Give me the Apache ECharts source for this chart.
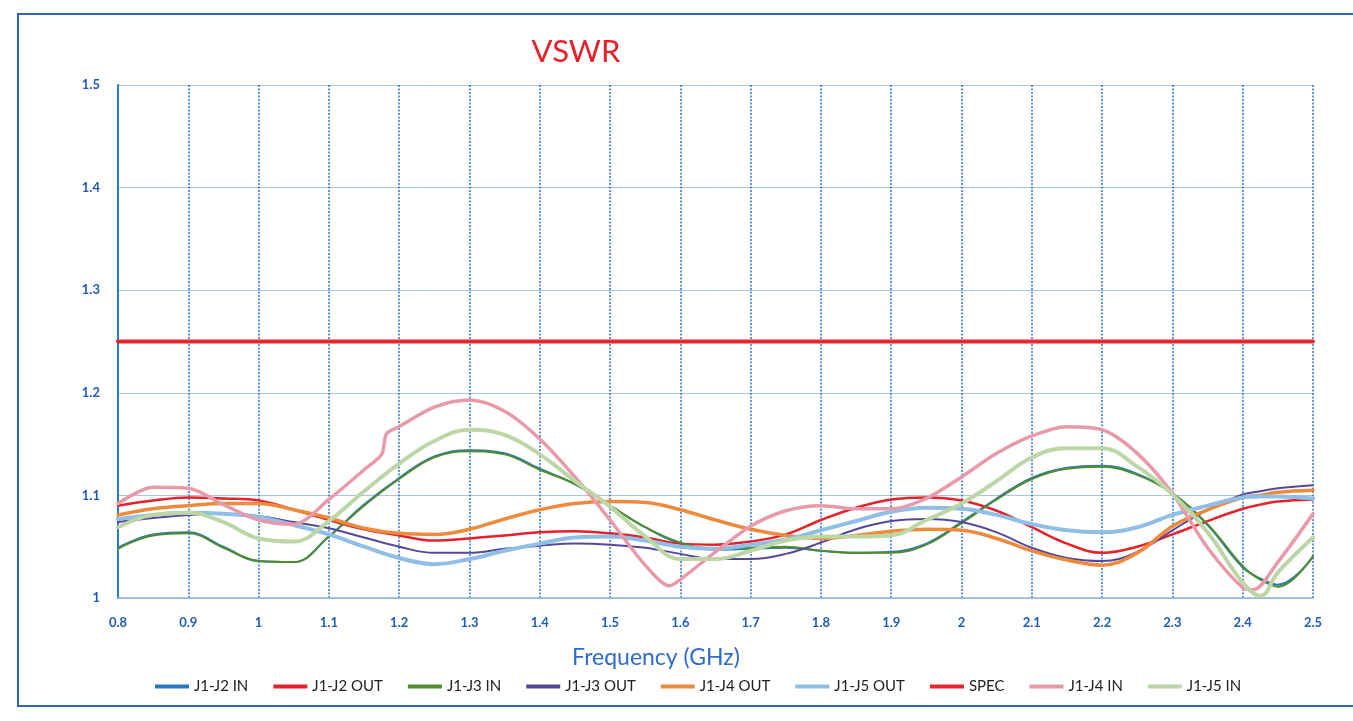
<!DOCTYPE html>
<html>
<head>
<meta charset="utf-8">
<script src="https://cdn.jsdelivr.net/npm/echarts@6/dist/echarts.min.js"></script>
<style>
html,body{margin:0;padding:0;background:#fff;}
#chart{width:1353px;height:721px;}
</style>
</head>
<body>
<div id="chart"></div>
<script>
// Frequency grid (GHz)
var freq = [0.8,0.85,0.9,0.95,1.0,1.05,1.1,1.15,1.2,1.25,1.3,1.35,1.4,1.45,1.5,1.55,1.6,1.65,1.7,1.75,1.8,1.85,1.9,1.95,2.0,2.05,2.1,2.15,2.2,2.25,2.3,2.35,2.4,2.425,2.45,2.5];
var freqPink = [0.8,0.85,0.9,0.95,1.0,1.05,1.1,1.15,1.175,1.182,1.2,1.25,1.3,1.35,1.4,1.45,1.5,1.55,1.585,1.6,1.65,1.7,1.75,1.8,1.85,1.9,1.95,2.0,2.05,2.1,2.15,2.2,2.25,2.3,2.35,2.4,2.415,2.45,2.5];
var freqSpec = [0.8, 2.5];

var j1j2In  = [1.049,1.062,1.064,1.050,1.036,1.035,1.060,1.091,1.117,1.138,1.144,1.141,1.126,1.111,1.090,1.069,1.053,1.047,1.048,1.049,1.046,1.044,1.045,1.053,1.074,1.097,1.117,1.127,1.129,1.121,1.102,1.071,1.030,1.019,1.013,1.040];
var j1j2Out = [1.090,1.095,1.098,1.097,1.095,1.086,1.076,1.067,1.061,1.056,1.058,1.061,1.064,1.065,1.063,1.059,1.053,1.052,1.055,1.062,1.076,1.088,1.096,1.098,1.095,1.085,1.069,1.053,1.044,1.050,1.062,1.075,1.087,1.091,1.094,1.096];
var j1j3In  = [1.048,1.061,1.063,1.049,1.036,1.035,1.060,1.090,1.116,1.137,1.143,1.140,1.125,1.111,1.090,1.069,1.054,1.048,1.049,1.050,1.046,1.044,1.044,1.052,1.073,1.096,1.116,1.126,1.128,1.120,1.102,1.072,1.031,1.018,1.011,1.041];
var j1j3Out = [1.074,1.078,1.081,1.082,1.080,1.074,1.068,1.059,1.050,1.044,1.044,1.048,1.051,1.053,1.052,1.049,1.043,1.038,1.038,1.043,1.054,1.067,1.075,1.077,1.074,1.064,1.049,1.039,1.036,1.045,1.066,1.086,1.101,1.104,1.107,1.110];
var j1j4Out = [1.081,1.087,1.090,1.092,1.092,1.086,1.078,1.068,1.063,1.062,1.067,1.077,1.086,1.092,1.094,1.093,1.086,1.076,1.067,1.061,1.058,1.061,1.065,1.067,1.066,1.058,1.046,1.037,1.032,1.044,1.070,1.086,1.098,1.100,1.103,1.105];
var j1j5Out = [1.077,1.081,1.083,1.082,1.079,1.071,1.062,1.050,1.039,1.033,1.038,1.046,1.053,1.059,1.060,1.056,1.050,1.048,1.052,1.057,1.066,1.075,1.084,1.088,1.087,1.081,1.072,1.066,1.064,1.069,1.081,1.090,1.098,1.099,1.099,1.097];
var spec    = [1.25, 1.25];
var j1j4In  = [1.092,1.108,1.107,1.091,1.076,1.072,1.096,1.125,1.140,1.160,1.167,1.186,1.193,1.182,1.155,1.118,1.076,1.032,1.012,1.018,1.045,1.070,1.085,1.090,1.087,1.087,1.097,1.118,1.141,1.158,1.167,1.164,1.141,1.102,1.049,1.010,1.008,1.035,1.082];
var j1j5In  = [1.069,1.081,1.083,1.074,1.058,1.055,1.075,1.104,1.131,1.153,1.164,1.159,1.140,1.114,1.089,1.060,1.038,1.038,1.046,1.056,1.060,1.060,1.061,1.076,1.092,1.114,1.137,1.146,1.146,1.128,1.101,1.064,1.015,1.002,1.025,1.059];

var xTicks = {min: 0.8, max: 2.5, interval: 0.1};
var yTicks = {min: 1.0, max: 1.5, interval: 0.1};

function pairs(xs, ys){ return xs.map(function(x,i){ return [x, ys[i]]; }); }

var seriesDefs = [
  {name:'J1-J2 IN',  x:freq,     y:j1j2In,  color:'#2a78c4', w:2},
  {name:'J1-J2 OUT', x:freq,     y:j1j2Out, color:'#e3222b', w:2.5},
  {name:'J1-J3 IN',  x:freq,     y:j1j3In,  color:'#4e8c2e', w:2},
  {name:'J1-J3 OUT', x:freq,     y:j1j3Out, color:'#55489a', w:2},
  {name:'J1-J4 OUT', x:freq,     y:j1j4Out, color:'#ee8a3c', w:3.5},
  {name:'J1-J5 OUT', x:freq,     y:j1j5Out, color:'#8fbfe6', w:4},
  {name:'SPEC',      x:freqSpec, y:spec,    color:'#e8262e', w:4},
  {name:'J1-J4 IN',  x:freqPink, y:j1j4In,  color:'#e99aaa', w:3.5},
  {name:'J1-J5 IN',  x:freq,     y:j1j5In,  color:'#bcd6a6', w:4}
];

var fontFam = 'Lato, "Open Sans", sans-serif';
var chart = echarts.init(document.getElementById('chart'), null, {renderer:'canvas'});
chart.setOption({
  backgroundColor:'#ffffff',
  animation:false,
  title:[{
    text:'VSWR', left:571, top:31, textAlign:'center',
    textStyle:{color:'#e8202a', fontSize:31, fontWeight:'normal', fontFamily:fontFam}
  },{
    text:'Frequency (GHz)', left:651, top:641, textAlign:'center',
    textStyle:{color:'#2d6ccc', fontSize:23, fontWeight:'normal', fontFamily:fontFam}
  }],
  graphic:[{
    type:'rect', silent:true, z:-1,
    shape:{x:18, y:14, width:1345, height:692},
    style:{fill:'none', stroke:'#2e64b8', lineWidth:2}
  }],
  legend:{
    left:150, top:674, itemWidth:34, itemHeight:4, itemGap:25, icon:'rect',
    textStyle:{color:'#222', fontSize:15, fontFamily:fontFam},
    data: seriesDefs.map(function(s){ return s.name; })
  },
  grid:{left:118, right:40, top:85, bottom:123, containLabel:false},
  xAxis:{
    type:'value', min:xTicks.min, max:xTicks.max, interval:xTicks.interval,
    axisLine:{show:true, lineStyle:{color:'#8fb5e5', width:1.5}},
    axisTick:{show:false},
    axisLabel:{color:'#1f5cb8', fontWeight:'bold', fontSize:13, margin:18, fontFamily:fontFam,
      formatter:function(v){ return String(+v.toFixed(1)); }},
    splitLine:{show:true, lineStyle:{color:'#2f73c9', width:1.5, type:[2,1.5]}}
  },
  yAxis:{
    type:'value', min:yTicks.min, max:yTicks.max, interval:yTicks.interval,
    axisLine:{show:true, lineStyle:{color:'#2a7bd8', width:2}},
    axisTick:{show:false},
    axisLabel:{color:'#1f5cb8', fontWeight:'bold', fontSize:13, margin:18, fontFamily:fontFam,
      formatter:function(v){ return String(+v.toFixed(1)); }},
    splitLine:{show:true, lineStyle:{color:'#a9c4e6', width:1}}
  },
  series: seriesDefs.map(function(s){
    return {
      name:s.name, type:'line', data:pairs(s.x, s.y),
      smooth: s.name === 'J1-J4 IN' ? 0.3 : 0.4,
      showSymbol:false, symbol:'none',
      color:s.color,
      lineStyle:{color:s.color, width:s.w, cap:'round', join:'round'},
      emphasis:{disabled:true}
    };
  })
});
</script>
</body>
</html>
